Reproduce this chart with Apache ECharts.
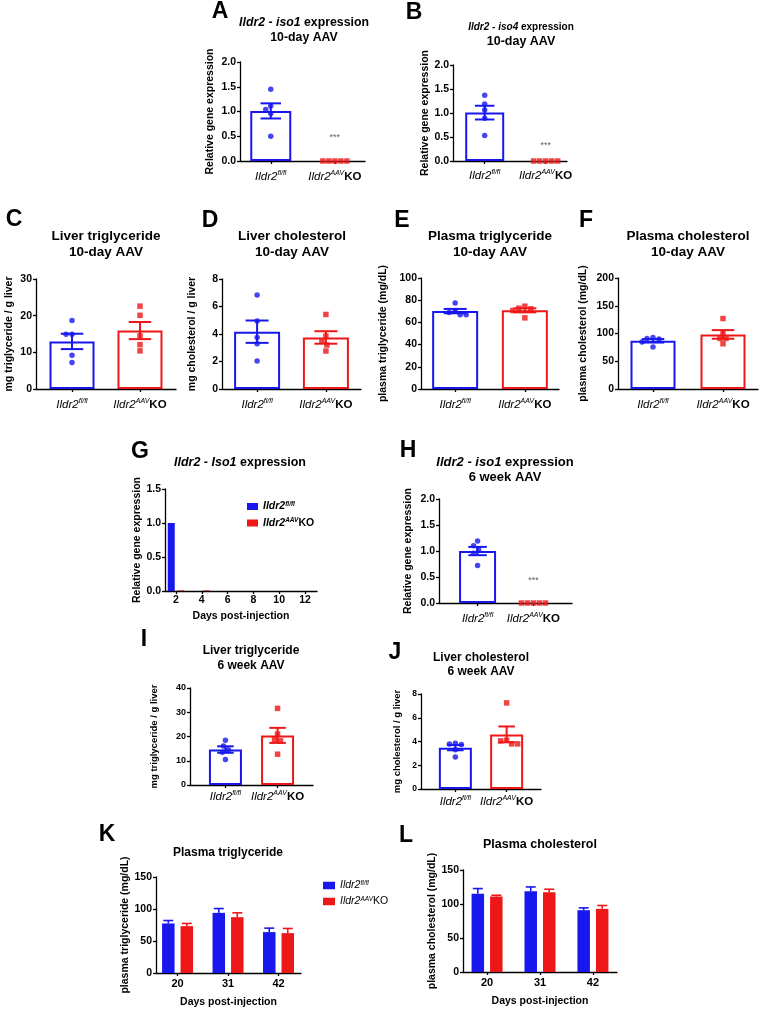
<!DOCTYPE html>
<html>
<head>
<meta charset="utf-8">
<script src="https://cdn.jsdelivr.net/npm/echarts@6/dist/echarts.min.js"></script>
<style>
  html, body { margin: 0; padding: 0; background: #fff; }
  #chart { width: 759px; height: 1010px; }
</style>
</head>
<body>
<div id="chart"></div>
<script>
// values
// A: Ildr2-iso1, 10-day AAV (relative expression)
const aFlox = [1.45, 1.11, 1.04, 0.96, 0.50]
const aKo = [0, 0, 0, 0, 0]
// B: Ildr2-iso4, 10-day AAV
const bFlox = [1.37, 1.19, 1.06, 0.89, 0.53]
const bKo = [0, 0, 0, 0, 0]
// C: liver triglyceride, 10-day
const cFlox = [18.7, 14.9, 14.9, 9.2, 7.2]
const cKo = [22.6, 20.1, 14.5, 12.1, 10.4]
// D: liver cholesterol, 10-day
const dFlox = [6.83, 4.94, 3.75, 3.29, 2.03]
const dKo = [5.42, 3.85, 3.51, 3.2, 2.76]
// E: plasma triglyceride, 10-day
const eFlox = [77.5, 70.5, 69, 67, 67]
const eKo = [74.6, 72.8, 72.2, 70.7, 64.1]
// F: plasma cholesterol, 10-day
const fFlox = [93, 91, 90, 84.6, 75.6]
const fKo = [127, 100.8, 91.2, 91.2, 81.6]
// G: iso1 time course
const gDays = [2, 4]
const gFlox = [1.0, 0]
const gKo = [0.01, 0.01]
// H: iso1, 6 week
const hFlox = [1.19, 1.10, 1.03, 0.955, 0.72]
const hKo = [0, 0, 0, 0, 0]
// I: liver triglyceride, 6 week
const iFlox = [18.5, 16.1, 14.5, 13.5, 10.5]
const iKo = [31.6, 21, 18.8, 18.2, 12.7]
// J: liver cholesterol, 6 week
const jFlox = [3.85, 3.8, 3.75, 3.3, 2.7]
const jKo = [7.25, 4.1, 4.05, 3.8, 3.8]
// K / L: plasma lipids over time (mean, sem)
const klDays = [20, 31, 42]
const kFloxMean = [77.4, 94, 63.9]
const kFloxSem = [4.6, 6.7, 6.2]
const kKoMean = [73.2, 87.2, 62.3]
const kKoSem = [4.2, 6.8, 7.3]
const lFloxMean = [114.9, 118.8, 90.9]
const lFloxSem = [7.8, 6.3, 3.4]
const lKoMean = [111, 117.3, 92.9]
const lKoSem = [1.9, 4.4, 4.9]
// height of the *** marks
const starA = 0.47
const starB = 0.32
const starH = 0.44

const BLUE = '#1717ee'
const RED = '#ee1717'
const FONT = '"Liberation Sans", Arial, sans-serif'
const LINE = { color: '#000', width: 1.3 }

const chart = echarts.init(document.getElementById('chart'))

const grids = [], xAxes = [], yAxes = [], series = [], titles = []

const mean = a => a.reduce((s, v) => s + v, 0) / a.length
const sem = a => {
  const m = mean(a)
  return Math.sqrt(a.reduce((s, v) => s + (v - m) ** 2, 0) / (a.length - 1)) / Math.sqrt(a.length)
}

// category labels with superscripts
const catRich = {
  i: { fontFamily: FONT, fontStyle: 'italic', fontSize: 11.5, color: '#000', lineHeight: 14 },
  s: { fontFamily: FONT, fontStyle: 'italic', fontSize: 7, color: '#000', lineHeight: 9, verticalAlign: 'top' },
  b: { fontFamily: FONT, fontWeight: 'bold', fontSize: 11.5, color: '#000', lineHeight: 14 }
}
const catLabel = v => v === 0 ? '{i|Ildr2}{s|fl/fl}' : '{i|Ildr2}{s|AAV}{b|KO}'

// spread points sideways like a dot plot (pixel based)
function swarm(vals, cx, p) {
  const pxX = p.width / (p.xMax - p.xMin)
  const pxY = p.height / p.yMax
  const d = 6
  const placed = []
  return vals.map(v => {
    const y = v * pxY
    let dx = 0
    for (let k = 0; k < 80; k++) {
      const c = (k % 2 ? -1 : 1) * Math.ceil(k / 2)
      if (placed.every(q => Math.hypot(q[0] - c, q[1] - y) >= d)) { dx = c; break }
    }
    placed.push([dx, y])
    return [cx + dx / pxX, v]
  })
}

function yAxisCfg(gi, max, step, dec, name, gap, fs, nfs) {
  return {
    gridIndex: gi, type: 'value', min: 0, max: max, interval: step,
    axisLine: { show: true, onZero: false, lineStyle: LINE },
    axisTick: { show: true, length: 3, lineStyle: LINE },
    splitLine: { show: false },
    axisLabel: { margin: 4, fontSize: fs, fontWeight: 'bold', color: '#000', fontFamily: FONT, formatter: v => v.toFixed(dec) },
    name: name, nameLocation: 'middle', nameGap: gap,
    nameTextStyle: { fontSize: nfs, fontWeight: 'bold', color: '#000', fontFamily: FONT }
  }
}

const dotPanels = [
  { flox: aFlox, ko: aKo, star: starA, left: 240, top: 62, width: 125, height: 99, xMin: -0.48, xMax: 1.47, yMax: 2, yStep: 0.5, dec: 1, barW: 41, name: 'Relative gene expression', nameGap: 24, lm: 9 },
  { flox: bFlox, ko: bKo, star: starB, left: 453, top: 65, width: 114, height: 96, xMin: -0.52, xMax: 1.35, yMax: 2, yStep: 0.5, dec: 1, barW: 39, name: 'Relative gene expression', nameGap: 19, lm: 8 },
  { flox: cFlox, ko: cKo, left: 36, top: 279, width: 140, height: 110, xMin: -0.53, xMax: 1.53, yMax: 30, yStep: 10, dec: 0, barW: 45, name: 'mg triglyceride / g liver', nameGap: 21, lm: 9 },
  { flox: dFlox, ko: dKo, left: 222, top: 279, width: 139, height: 110, xMin: -0.51, xMax: 1.51, yMax: 8, yStep: 2, dec: 0, barW: 46, name: 'mg cholesterol / g liver', nameGap: 24, lm: 9 },
  { flox: eFlox, ko: eKo, left: 421, top: 278, width: 138, height: 111, xMin: -0.49, xMax: 1.49, yMax: 100, yStep: 20, dec: 0, barW: 46, name: 'plasma triglyceride (mg/dL)', nameGap: 32, lm: 9 },
  { flox: fFlox, ko: fKo, left: 618, top: 278, width: 140, height: 111, xMin: -0.5, xMax: 1.5, yMax: 200, yStep: 50, dec: 0, barW: 45, name: 'plasma cholesterol (mg/dL)', nameGap: 29, lm: 9 },
  { flox: hFlox, ko: hKo, star: starH, left: 439, top: 499, width: 133, height: 104, xMin: -0.69, xMax: 1.69, yMax: 2, yStep: 0.5, dec: 1, barW: 37, name: 'Relative gene expression', nameGap: 25, lm: 9 },
  { flox: iFlox, ko: iKo, left: 190, top: 688, width: 123, height: 97, xMin: -0.68, xMax: 1.68, yMax: 40, yStep: 10, dec: 0, barW: 33, name: 'mg triglyceride / g liver', nameGap: 31, lm: 5, fs: 9, nfs: 9.5 },
  { flox: jFlox, ko: jKo, left: 421, top: 694, width: 120, height: 95, xMin: -0.67, xMax: 1.67, yMax: 8, yStep: 2, dec: 0, barW: 33, name: 'mg cholesterol / g liver', nameGap: 19, lm: 6, fs: 8.5, nfs: 9.5 }
]

dotPanels.forEach(p => {
  const gi = grids.length
  grids.push({ left: p.left, top: p.top, width: p.width, height: p.height })
  xAxes.push({
    gridIndex: gi, type: 'value', min: p.xMin, max: p.xMax,
    axisLine: { show: true, onZero: false, lineStyle: LINE },
    axisTick: { show: true, customValues: [0, 1], length: 3, lineStyle: LINE },
    axisLabel: { customValues: [0, 1], formatter: catLabel, margin: p.lm, rich: catRich },
    splitLine: { show: false }
  })
  yAxes.push(yAxisCfg(gi, p.yMax, p.yStep, p.dec, p.name, p.nameGap, p.fs || 10.5, p.nfs || 10.5))

  const groups = [p.flox, p.ko]
  const cols = [BLUE, RED]
  series.push({
    type: 'bar', xAxisIndex: gi, yAxisIndex: gi, barWidth: p.barW, silent: true, z: 2,
    data: groups.map((g, k) => ({
      value: [k, mean(g)],
      itemStyle: { color: '#fff', borderColor: cols[k], borderWidth: mean(g) > 0 ? 2 : 0 }
    }))
  })
  const capW = p.barW * 0.5
  series.push({
    type: 'custom', xAxisIndex: gi, yAxisIndex: gi, silent: true, z: 3,
    data: groups.map((g, k) => [k, mean(g), sem(g), k]),
    renderItem: (params, api) => {
      const x = api.value(0), m = api.value(1), e = api.value(2)
      if (!(e > 0)) return null
      const top = api.coord([x, m + e]), bot = api.coord([x, m - e])
      const st = { stroke: cols[api.value(3)], lineWidth: 2 }
      const hw = capW / 2
      return {
        type: 'group', children: [
          { type: 'line', shape: { x1: top[0], y1: top[1], x2: bot[0], y2: bot[1] }, style: st },
          { type: 'line', shape: { x1: top[0] - hw, y1: top[1], x2: top[0] + hw, y2: top[1] }, style: st },
          { type: 'line', shape: { x1: bot[0] - hw, y1: bot[1], x2: bot[0] + hw, y2: bot[1] }, style: st }
        ]
      }
    }
  })
  series.push({
    type: 'scatter', xAxisIndex: gi, yAxisIndex: gi, silent: true, z: 4,
    symbol: 'circle', symbolSize: 5.5, itemStyle: { color: BLUE },
    data: swarm(p.flox, 0, p)
  })
  series.push({
    type: 'scatter', xAxisIndex: gi, yAxisIndex: gi, silent: true, z: 4,
    symbol: 'rect', symbolSize: 5.5, itemStyle: { color: RED },
    data: swarm(p.ko, 1, p)
  })
  if (p.star !== undefined) {
    series.push({
      type: 'scatter', xAxisIndex: gi, yAxisIndex: gi, silent: true, z: 5,
      symbolSize: 1, itemStyle: { color: 'transparent' },
      data: [[1, p.star]],
      label: { show: true, position: 'inside', formatter: '***', fontSize: 9, color: '#333', fontFamily: FONT }
    })
  }
})

// G: time course bars
{
  const gi = grids.length
  grids.push({ left: 165, top: 489, width: 152, height: 102 })
  xAxes.push({
    gridIndex: gi, type: 'value', min: 1.15, max: 12.93,
    axisLine: { show: true, onZero: false, lineStyle: LINE },
    axisTick: { show: true, customValues: [2, 4, 6, 8, 10, 12], length: 3, lineStyle: LINE },
    axisLabel: { customValues: [2, 4, 6, 8, 10, 12], margin: 4, fontSize: 10.5, fontWeight: 'bold', color: '#000' },
    splitLine: { show: false },
    name: 'Days post-injection', nameLocation: 'middle', nameGap: 20,
    nameTextStyle: { fontSize: 10.5, fontWeight: 'bold', color: '#000', fontFamily: FONT }
  })
  yAxes.push(yAxisCfg(gi, 1.5, 0.5, 1, 'Relative gene expression', 20, 10.5, 10.5))
  series.push({
    name: 'flox', type: 'bar', xAxisIndex: gi, yAxisIndex: gi, barWidth: 7, barGap: '35%', silent: true,
    itemStyle: { color: BLUE }, data: gDays.map((d, i) => [d, gFlox[i]])
  })
  series.push({
    name: 'ko', type: 'bar', xAxisIndex: gi, yAxisIndex: gi, barWidth: 7, barGap: '35%', silent: true,
    itemStyle: { color: RED }, data: gDays.map((d, i) => [d, gKo[i]])
  })
}

// K and L: grouped bars with SEM above
const KL_W = 12.5
const KL_GAP = 0.48
const klPanels = [
  { flox: kFloxMean, floxE: kFloxSem, ko: kKoMean, koE: kKoSem, left: 156, top: 877, width: 145, height: 96, xMin: 15.3, xMax: 46.9, name: 'plasma triglyceride (mg/dL)', nameGap: 22 },
  { flox: lFloxMean, floxE: lFloxSem, ko: lKoMean, koE: lKoSem, left: 463, top: 870, width: 154, height: 102, xMin: 15.0, xMax: 47.0, name: 'plasma cholesterol (mg/dL)', nameGap: 24 }
]
klPanels.forEach(p => {
  const gi = grids.length
  grids.push({ left: p.left, top: p.top, width: p.width, height: p.height })
  xAxes.push({
    gridIndex: gi, type: 'value', min: p.xMin, max: p.xMax,
    axisLine: { show: true, onZero: false, lineStyle: LINE },
    axisTick: { show: true, customValues: klDays, length: 3, lineStyle: LINE },
    axisLabel: { customValues: klDays, margin: 5, fontSize: 11, fontWeight: 'bold', color: '#000' },
    splitLine: { show: false },
    name: 'Days post-injection', nameLocation: 'middle', nameGap: 24,
    nameTextStyle: { fontSize: 10.5, fontWeight: 'bold', color: '#000', fontFamily: FONT }
  })
  yAxes.push(yAxisCfg(gi, 150, 50, 0, p.name, p.nameGap, 10.5, 10.5))
  const sets = [[p.flox, p.floxE, BLUE, 'flox', -1], [p.ko, p.koE, RED, 'ko', 1]]
  sets.forEach(([m, e, col, nm]) => {
    series.push({
      name: nm, type: 'bar', xAxisIndex: gi, yAxisIndex: gi, barWidth: KL_W, barGap: KL_GAP * 100 + '%',
      silent: true, itemStyle: { color: col }, data: klDays.map((d, i) => [d, m[i]])
    })
  })
  sets.forEach(([m, e, col, nm, side]) => {
    const off = side * KL_W * (1 + KL_GAP) / 2
    series.push({
      type: 'custom', xAxisIndex: gi, yAxisIndex: gi, silent: true, z: 3,
      data: klDays.map((d, i) => [d, m[i], e[i]]),
      renderItem: (params, api) => {
        const top = api.coord([api.value(0), api.value(1) + api.value(2)])
        const base = api.coord([api.value(0), api.value(1)])
        const x = top[0] + off
        const st = { stroke: col, lineWidth: 1.6 }
        return {
          type: 'group', children: [
            { type: 'line', shape: { x1: x, y1: base[1], x2: x, y2: top[1] }, style: st },
            { type: 'line', shape: { x1: x - 5, y1: top[1], x2: x + 5, y2: top[1] }, style: st }
          ]
        }
      }
    })
  })
})

// titles
function addTitle(x, y, text, size, lh, size2) {
  const s2 = size2 || size
  titles.push({
    text: text, left: x, top: y, textAlign: 'center', textVerticalAlign: 'middle', padding: 0,
    textStyle: {
      rich: {
        i: { fontFamily: FONT, fontSize: size, fontWeight: 'bold', fontStyle: 'italic', color: '#000', lineHeight: lh },
        n: { fontFamily: FONT, fontSize: size, fontWeight: 'bold', color: '#000', lineHeight: lh },
        m: { fontFamily: FONT, fontSize: s2, fontWeight: 'bold', color: '#000', lineHeight: lh }
      }
    }
  })
}
addTitle(304, 30.5, '{i|Ildr2 - iso1}{n| expression}\n{m|10-day AAV}', 12.3, 15)
addTitle(521, 34.5, '{i|Ildr2 - iso4}{n| expression}\n{m|10-day AAV}', 10, 15, 12.5)
addTitle(106, 244, '{n|Liver triglyceride}\n{n|10-day AAV}', 13.5, 16)
addTitle(292, 244, '{n|Liver cholesterol}\n{n|10-day AAV}', 13.5, 16)
addTitle(490, 244, '{n|Plasma triglyceride}\n{n|10-day AAV}', 13.5, 16)
addTitle(688, 244, '{n|Plasma cholesterol}\n{n|10-day AAV}', 13.5, 16)
addTitle(240, 463, '{i|Ildr2 - Iso1}{n| expression}', 12.5, 15)
addTitle(505, 469.5, '{i|Ildr2 - iso1}{n| expression}\n{n|6 week AAV}', 13, 15)
addTitle(251, 658.5, '{n|Liver triglyceride}\n{n|6 week AAV}', 12, 15)
addTitle(481, 664.5, '{n|Liver cholesterol}\n{n|6 week AAV}', 12, 13.5)
addTitle(228, 853, '{n|Plasma triglyceride}', 12, 15)
addTitle(540, 845, '{n|Plasma cholesterol}', 12.5, 15)

// panel letters
const letters = [['A', 220, 12], ['B', 414, 12.5], ['C', 14, 220], ['D', 210, 221], ['E', 402, 221], ['F', 586, 221],
  ['G', 140, 452], ['H', 408, 451], ['I', 144, 640], ['J', 395, 653], ['K', 107, 835], ['L', 406, 836]]
letters.forEach(([t, x, y]) => titles.push({
  text: t, left: x, top: y, textAlign: 'center', textVerticalAlign: 'middle', padding: 0,
  textStyle: { fontFamily: FONT, fontSize: 23, fontWeight: 'bold', color: '#000' }
}))

function legendCfg(left, top, bold, gap, w, h) {
  const wt = bold ? 'bold' : 'normal'
  return {
    left: left, top: top, padding: 0, orient: 'vertical', itemWidth: w, itemHeight: h, itemGap: gap,
    selectedMode: false, icon: 'rect', data: ['flox', 'ko'],
    formatter: n => n === 'flox' ? '{i|Ildr2}{s|fl/fl}' : '{i|Ildr2}{s|AAV}{b|KO}',
    textStyle: {
      rich: {
        i: { fontFamily: FONT, fontStyle: 'italic', fontWeight: wt, fontSize: 10.5, color: '#000', lineHeight: 12 },
        s: { fontFamily: FONT, fontStyle: 'italic', fontWeight: wt, fontSize: 6.5, color: '#000', lineHeight: 8, verticalAlign: 'top' },
        b: { fontFamily: FONT, fontWeight: wt, fontSize: 10.5, color: '#000', lineHeight: 12 }
      }
    }
  }
}

chart.setOption({
  animation: false,
  backgroundColor: '#fff',
  textStyle: { fontFamily: FONT },
  title: titles,
  legend: [legendCfg(247, 500.5, true, 5, 11, 7), legendCfg(323, 879.5, false, 4.5, 12, 7.5)],
  grid: grids,
  xAxis: xAxes,
  yAxis: yAxes,
  series: series
})
</script>
</body>
</html>
